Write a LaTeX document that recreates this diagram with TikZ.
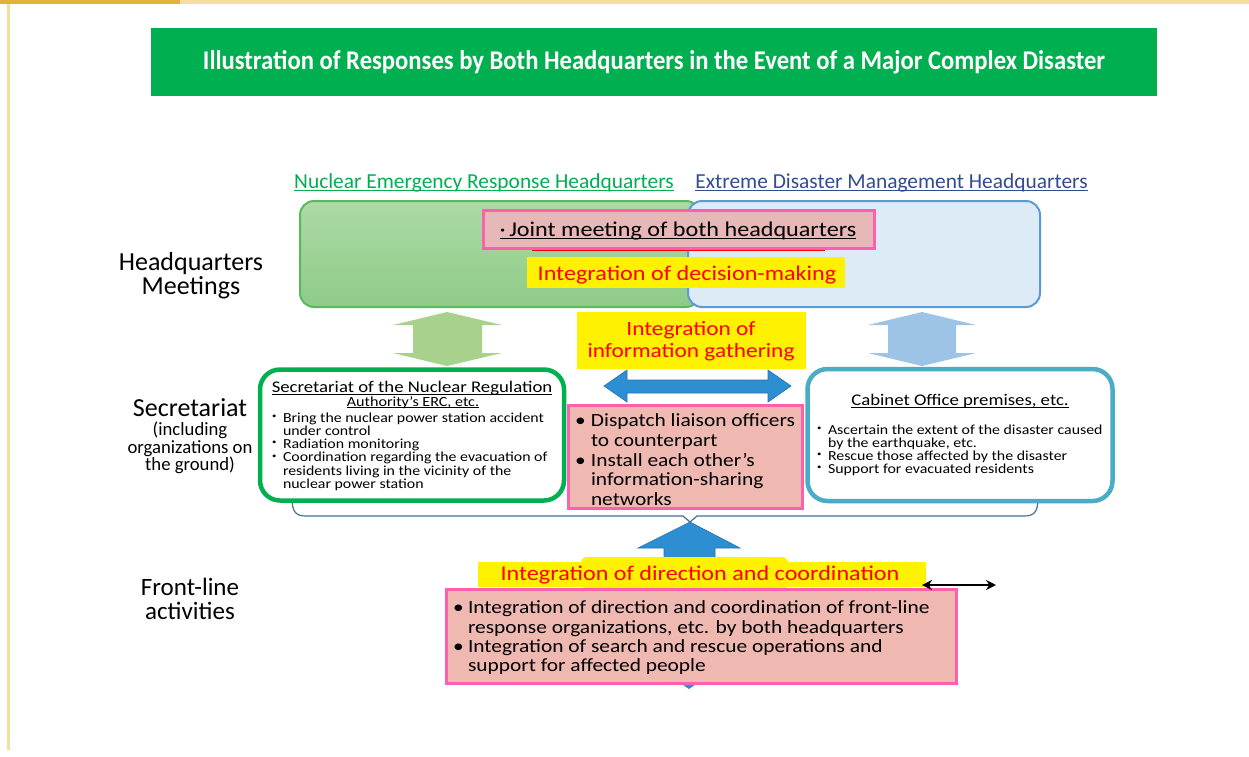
\documentclass[tikz,border=0pt]{standalone}
\usepackage{fontspec}
\setmainfont{Carlito}
\newfontfamily\widefont{Carlito}[FakeStretch=1.15]
\usepackage{graphicx}
\usetikzlibrary{arrows.meta}
\definecolor{titlegreen}{HTML}{00B050}
\definecolor{nucgreen}{HTML}{00B050}
\definecolor{edmblue}{HTML}{2E4E8F}
\definecolor{pinkfill}{HTML}{EFB9B2}
\definecolor{jointfill}{HTML}{E6B8B7}
\definecolor{pinkline}{HTML}{FF5FAF}
\definecolor{hqgreentop}{HTML}{ACDAA6}
\definecolor{hqgreenbot}{HTML}{8FCB88}
\definecolor{hqgreenline}{HTML}{5CB860}
\definecolor{hqbluefill}{HTML}{DDEBF7}
\definecolor{hqblueline}{HTML}{5B9BD5}
\definecolor{arrgreen}{HTML}{A9D18E}
\definecolor{arrblue}{HTML}{9DC3E6}
\definecolor{darkarr}{HTML}{2D8FD2}
\definecolor{darkarrline}{HTML}{2173B0}
\definecolor{cabline}{HTML}{4BACC6}
\definecolor{secline}{HTML}{00B050}
\definecolor{bracketblue}{HTML}{41719C}
\definecolor{framegold}{HTML}{F5DE9E}
\definecolor{darkgold}{HTML}{E2B13C}
\newcommand\myfs[2]{\fontsize{#1}{#2}\selectfont\lineskiplimit=-20pt\relax}
\newcommand\wfs[2]{\widefont\fontsize{#1}{#2}\selectfont\lineskiplimit=-20pt\relax}
\newcommand\myul[1]{\setbox0\hbox{#1}\rlap{\rule[-0.14em]{\wd0}{1.2pt}}\box0}
\newcommand\smallbul{\makebox[11pt][l]{\raisebox{0.28em}{\scalebox{0.55}{\textbullet}}}}
\newcommand\bigbul{\makebox[16pt][l]{\textbullet}}
\newcommand\midbul{\makebox[15pt][l]{\textbullet}}
\begin{document}
\begin{tikzpicture}[x=1pt,y=-1pt,
  box/.style={inner sep=0pt, outer sep=0pt},
  txt/.style={inner sep=0pt, outer sep=0pt},
  pinkbox/.style={box, draw=pinkline, line width=3pt, fill=pinkfill},
  yelbox/.style={box, fill=yellow},
  redtxt/.style={txt, text=red},
  secbox/.style={box, draw=#1, line width=4.5pt, fill=white, rounded corners=20pt},
]
\useasboundingbox (0,0) rectangle (1249,756);
\fill[white] (0,0) rectangle (1249,756);
% frame
\fill[framegold] (0,0) rectangle (1249,4);
\fill[darkgold] (0,0) rectangle (180,4);
\fill[framegold] (7,4) rectangle (10,750);

% title
\node[box, fill=titlegreen, minimum width=1006pt, minimum height=68pt, text=white] (title) at (654,62)
  {\resizebox{902pt}{19pt}{\bfseries Illustration of Responses by Both Headquarters in the Event of a Major Complex Disaster}};

% headers
\node[txt, anchor=base, text=nucgreen, font=\myfs{21.4}{24}] (nerh) at (484,188) {\myul{Nuclear Emergency Response Headquarters}};
\node[txt, anchor=base, text=edmblue, font=\myfs{21.4}{24}] (edmh) at (891.5,188) {\myul{Extreme Disaster Management Headquarters}};

% HQ boxes
\node[box, draw=hqgreenline, line width=2pt, top color=hqgreentop, bottom color=hqgreenbot, rounded corners=14pt,
  minimum width=400pt, minimum height=106pt] (hqgreen) at (500,254) {};
\node[box, draw=hqblueline, line width=2pt, fill=hqbluefill, rounded corners=14pt,
  minimum width=352pt, minimum height=106pt] (hqblue) at (864,254) {};
\draw[red, line width=1.5pt] (532,250) -- (825,250);
\node[box, draw=pinkline, line width=3pt, fill=jointfill, minimum width=391pt, minimum height=38pt] (joint) at (678.5,229.5) {};
\node[txt, anchor=base, font=\wfs{21}{24}] (jointt) at (678,236) {\myul{·\,Joint meeting of both headquarters}};
\node[yelbox, minimum width=318pt, minimum height=31pt] (decision) at (686,272) {};
\node[redtxt, anchor=base, font=\wfs{21}{24}] (decisiont) at (687,280) {Integration of decision-making};

% left labels
\node[txt, align=center, font=\myfs{26}{24}] (lhq) at (191,276) {Headquarters\\Meetings};
\node[txt, anchor=base, font=\myfs{26}{24}] (lsec) at (190,416.5) {Secretariat};
\node[txt, align=center, font=\myfs{18.7}{17.3}] (lsecsub) at (190,448) {(including\\organizations on\\the ground)};
\node[txt, align=center, font=\myfs{25}{24}] (lfront) at (190,599) {Front-line\\activities};

% vertical arrows between HQ and secretariat
\fill[arrgreen] (447,312) -- (502,325) -- (482,325) -- (482,353) -- (502,353) -- (447,366)
  -- (393,353) -- (413,353) -- (413,325) -- (393,325) -- cycle;
\fill[arrblue] (922,312) -- (976,325) -- (956,325) -- (956,353) -- (976,353) -- (922,366)
  -- (868,353) -- (888,353) -- (888,325) -- (868,325) -- cycle;

% info gathering
\node[yelbox, minimum width=229pt, minimum height=57pt] (info) at (691.5,340.5) {};
\node[redtxt, align=center, font=\wfs{20.3}{22.5}] (infot) at (691,341) {Integration of\\information gathering};

% horizontal double arrow
\filldraw[fill=darkarr, draw=darkarrline, line width=0.6pt] (604,386) -- (627,370) -- (627,380) -- (768,380) -- (768,370) -- (791,386)
  -- (768,402) -- (768,393) -- (627,393) -- (627,402) -- cycle;

% bracket
\draw[bracketblue, line width=1.2pt] (292,498) .. controls (292,512) and (296,516) .. (306,516) -- (683,516) -- (690,522)
  -- (697,516) -- (1024,516) .. controls (1034,516) and (1038,512) .. (1038,498);

% secretariat boxes
\node[secbox=secline, minimum width=304pt, minimum height=131pt] (nra) at (412,435) {};
\node[txt, anchor=base, font=\wfs{16.3}{20}] (nrat1) at (412,392.5) {\myul{Secretariat of the Nuclear Regulation}};
\node[txt, anchor=base, font=\wfs{14}{18}] (nrat2) at (413,406) {\myul{Authority’s ERC, etc.}};
\node[txt, anchor=north west, align=left, font=\wfs{13.8}{13.2}] (nrab) at (272,412.8)
  {\smallbul Bring the nuclear power station accident\\
   \hspace*{11pt}under control\\
   \smallbul Radiation monitoring\\
   \smallbul Coordination regarding the evacuation of\\
   \hspace*{11pt}residents living in the vicinity of the\\
   \hspace*{11pt}nuclear power station};

\node[secbox=cabline, minimum width=305pt, minimum height=132pt] (cab) at (960,435) {};
\node[txt, anchor=base, font=\wfs{16.3}{20}] (cabt) at (960,405.5) {\myul{Cabinet Office premises, etc.}};
\node[txt, anchor=north west, align=left, font=\wfs{13.8}{13}] (cabb) at (817,424.8)
  {\smallbul Ascertain the extent of the disaster caused\\
   \hspace*{11pt}by the earthquake, etc.\\
   \smallbul Rescue those affected by the disaster\\
   \smallbul Support for evacuated residents};

% center pink box
\node[pinkbox, minimum width=234pt, minimum height=103pt] (liaison) at (685.5,457) {};
\node[txt, anchor=north west, align=left, font=\wfs{18.6}{19.7}] (liaisont) at (575,413.9)
  {\bigbul Dispatch liaison officers\\
   \hspace*{16pt}to counterpart\\
   \bigbul Install each other’s\\
   \hspace*{16pt}information-sharing\\
   \hspace*{16pt}networks};

% big up arrow and small down tip
\filldraw[fill=darkarr, draw=darkarrline, line width=0.6pt] (690,522) -- (740,548) -- (715,548) -- (715,592) -- (664,592) -- (664,548) -- (638,548) -- cycle;
\fill[darkarr] (676,680) -- (702,680) -- (689,689) -- cycle;

% direction and coordination
\node[box, fill=yellow, rounded corners=6pt, minimum width=207pt, minimum height=32pt] (dirback) at (684.5,573) {};
\node[yelbox, minimum width=448pt, minimum height=25pt] (direction) at (702,574.5) {};
\node[redtxt, anchor=base, font=\wfs{21}{24}] (directiont) at (700,580.5) {Integration of direction and coordination};

% bottom pink box
\node[pinkbox, minimum width=510pt, minimum height=94pt] (front) at (701,636) {};
\node[txt, anchor=north west, align=left, font=\wfs{18.6}{19.4}] (frontt) at (453,600.8)
  {\midbul Integration of direction and coordination of front-line\\
   \hspace*{15pt}response organizations, etc. by both headquarters\\
   \midbul Integration of search and rescue operations and\\
   \hspace*{15pt}support for affected people};

% black double arrow
\coordinate (bl) at (922,585);
\coordinate (br) at (996,585);
\draw[{Stealth[length=10pt,width=10pt]}-{Stealth[length=10pt,width=10pt]}, line width=1.6pt] (bl) -- (br);
\end{tikzpicture}
\end{document}
